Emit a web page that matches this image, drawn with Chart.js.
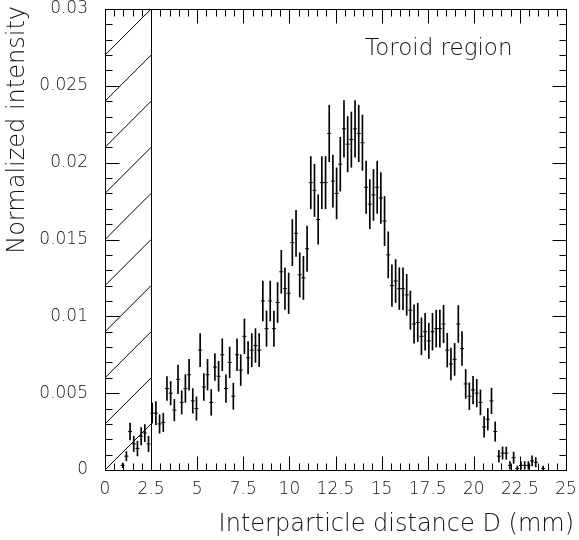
<!DOCTYPE html>
<html>
<head>
<meta charset="utf-8">
<script src="https://cdn.jsdelivr.net/npm/chart.js@4"></script>
<style>
  body { margin: 0; background: #fff; }
  canvas { display: block; }
</style>
</head>
<body>
<canvas id="chart" width="579" height="540"></canvas>
<script>
// bin centres (mm)
const distance = [
    0.96, 1.16, 1.36, 1.56, 1.76, 1.96, 2.16, 2.36, 2.56, 2.76,
    2.96, 3.16, 3.36, 3.56, 3.76, 3.96, 4.16, 4.36, 4.56, 4.76,
    4.96, 5.16, 5.36, 5.56, 5.76, 5.96, 6.16, 6.36, 6.56, 6.76,
    6.96, 7.16, 7.36, 7.56, 7.76, 7.96, 8.16, 8.36, 8.56, 8.76,
    8.96, 9.16, 9.36, 9.56, 9.76, 9.96, 10.16, 10.36, 10.56, 10.76,
    10.96, 11.16, 11.36, 11.56, 11.76, 11.96, 12.16, 12.36, 12.56, 12.76,
    12.96, 13.16, 13.36, 13.56, 13.76, 13.96, 14.16, 14.36, 14.56, 14.76,
    14.96, 15.16, 15.36, 15.56, 15.76, 15.96, 16.16, 16.36, 16.56, 16.76,
    16.96, 17.16, 17.36, 17.56, 17.76, 17.96, 18.16, 18.36, 18.56, 18.76,
    18.96, 19.16, 19.36, 19.56, 19.76, 19.96, 20.16, 20.36, 20.56, 20.76,
    20.96, 21.16, 21.36, 21.56, 21.76, 21.96, 22.16, 22.36, 22.56, 22.76,
    22.96, 23.16, 23.36, 23.56, 23.76
];

const intensity = [
    0.0003, 0.0009, 0.0025, 0.0017, 0.0014, 0.0022, 0.0024, 0.0017, 0.0037, 0.0037,
    0.0030, 0.0031, 0.0053, 0.0050, 0.0039, 0.0059, 0.0044, 0.0053, 0.0062, 0.0045,
    0.0040, 0.0078, 0.0054, 0.0062, 0.0044, 0.0067, 0.0061, 0.0075, 0.0053, 0.0070,
    0.0048, 0.0075, 0.0065, 0.0087, 0.0073, 0.0078, 0.0081, 0.0078, 0.0110, 0.0092,
    0.0110, 0.0092, 0.0109, 0.0129, 0.0118, 0.0115, 0.0148, 0.0154, 0.0127, 0.0125,
    0.0144, 0.0187, 0.0182, 0.0163, 0.0187, 0.0187, 0.0219, 0.0188, 0.0180, 0.0199,
    0.0222, 0.0212, 0.0215, 0.0222, 0.0219, 0.0213, 0.0184, 0.0173, 0.0179, 0.0184,
    0.0177, 0.0162, 0.0140, 0.0120, 0.0123, 0.0118, 0.0118, 0.0114, 0.0104, 0.0095,
    0.0096, 0.0087, 0.0090, 0.0084, 0.0090, 0.0092, 0.0092, 0.0095, 0.0078, 0.0069,
    0.0072, 0.0095, 0.0079, 0.0056, 0.0048, 0.0052, 0.0050, 0.0044, 0.0028, 0.0033,
    0.0045, 0.0025, 0.0009, 0.0011, 0.0011, 0.0003, 0.0008, 0.0001, 0.0003, 0.0003,
    0.0003, 0.0006, 0.0005, null, 0.0001
];

const errors = [
    0.00015, 0.0003, 0.00055, 0.0005, 0.00048, 0.00056, 0.00056, 0.0005, 0.00065, 0.00075,
    0.0006, 0.0006, 0.00078, 0.00076, 0.0007, 0.00093, 0.00076, 0.0009, 0.001, 0.0008,
    0.00076, 0.00108, 0.00087, 0.001, 0.00084, 0.00087, 0.00097, 0.00104, 0.0009, 0.001,
    0.00085, 0.00104, 0.001, 0.00113, 0.00105, 0.00108, 0.0011, 0.00108, 0.0013, 0.00115,
    0.0013, 0.00115, 0.0013, 0.0014, 0.00135, 0.00132, 0.0015, 0.0015, 0.00144, 0.0014,
    0.00148, 0.0017, 0.0017, 0.0016, 0.0017, 0.0017, 0.00184, 0.0017, 0.00166, 0.00175,
    0.00184, 0.0018, 0.0018, 0.00184, 0.00184, 0.0018, 0.0017, 0.0016, 0.00166, 0.0017,
    0.00166, 0.0016, 0.0015, 0.00135, 0.0014, 0.00136, 0.00136, 0.00133, 0.00125, 0.00125,
    0.00125, 0.0012, 0.0012, 0.00115, 0.0012, 0.0012, 0.0012, 0.00122, 0.0011, 0.00103,
    0.00104, 0.0012, 0.0011, 0.00094, 0.00087, 0.0009, 0.0009, 0.00081, 0.00067, 0.0007,
    0.00083, 0.00063, 0.00038, 0.0004, 0.0004, 0.00025, 0.00037, 0.00015, 0.00025, 0.00025,
    0.00025, 0.00033, 0.0003, null, 0.00015
];

const xTicks = [0, 2.5, 5, 7.5, 10, 12.5, 15, 17.5, 20, 22.5, 25];
const yTicks = [0, 0.005, 0.01, 0.015, 0.02, 0.025, 0.03];
const excludedUpTo = 2.5;   // hatched region

const xTitle = 'Interparticle distance D (mm)';
const yTitle = 'Normalized intensity';
const regionLabel = 'Toroid region';

const FONT = '"DejaVu Sans", sans-serif';
const INK = '#111';

const points = [];
const bars = [];
for (let i = 0; i < distance.length; i++) {
    if (intensity[i] === null) continue;
    points.push({ x: distance[i], y: intensity[i] });
    bars.push({ x: distance[i], y: [intensity[i] - errors[i], intensity[i] + errors[i]] });
}

// frame, inner ticks, hatching, titles (PAW style)
const framePlugin = {
    id: 'frame',
    afterDraw(chart) {
        const { ctx, chartArea: a, scales: { x, y } } = chart;
        ctx.save();
        ctx.strokeStyle = '#000';
        ctx.lineWidth = 1;

        // hatch
        const xe = Math.round(x.getPixelForValue(excludedUpTo)) + 0.5;
        ctx.save();
        ctx.beginPath();
        ctx.rect(a.left, a.top, xe - a.left, a.bottom - a.top);
        ctx.clip();
        ctx.beginPath();
        for (let v = 0; v < 0.03; v += 0.003) {
            ctx.moveTo(x.getPixelForValue(0), y.getPixelForValue(v));
            ctx.lineTo(x.getPixelForValue(excludedUpTo), y.getPixelForValue(v + 0.003));
        }
        ctx.stroke();
        ctx.restore();

        ctx.beginPath();
        ctx.moveTo(xe, a.top);
        ctx.lineTo(xe, a.bottom);
        ctx.stroke();

        // frame
        const L = Math.round(a.left) + 0.5, R = Math.round(a.right) + 0.5;
        const T = Math.round(a.top) + 0.5, B = Math.round(a.bottom) + 0.5;
        ctx.strokeRect(L, T, R - L, B - T);

        // ticks
        ctx.beginPath();
        for (let i = 0; i <= 50; i++) {
            const px = Math.round(x.getPixelForValue(i * 0.5)) + 0.5;
            const len = i % 5 === 0 ? 14 : 7;
            ctx.moveTo(px, B); ctx.lineTo(px, B - len);
            ctx.moveTo(px, T); ctx.lineTo(px, T + len);
        }
        for (let i = 0; i <= 30; i++) {
            const py = Math.round(y.getPixelForValue(i * 0.001)) + 0.5;
            const len = i % 5 === 0 ? 14 : 7;
            ctx.moveTo(L, py); ctx.lineTo(L + len, py);
            ctx.moveTo(R, py); ctx.lineTo(R - len, py);
        }
        ctx.stroke();

        // texts
        ctx.fillStyle = INK;
        ctx.font = '200 24px ' + FONT;
        ctx.textAlign = 'right';
        ctx.textBaseline = 'alphabetic';
        ctx.fillText(xTitle, 574, 531);

        ctx.save();
        ctx.translate(24, 6);
        ctx.rotate(-Math.PI / 2);
        ctx.fillText(yTitle, 0, 0);
        ctx.restore();

        ctx.font = '200 23px ' + FONT;
        ctx.textAlign = 'left';
        ctx.fillText(regionLabel, 365, 55);
        ctx.restore();
    }
};

const fmt = v => String(Math.round(v * 1000) / 1000);

new Chart(document.getElementById('chart'), {
    type: 'bar',
    data: {
        datasets: [{
            type: 'bar',
            data: bars,
            backgroundColor: '#000',
            barThickness: 1,
            grouped: false,
            borderWidth: 0
        }, {
            type: 'scatter',
            data: points,
            pointStyle: 'line',
            radius: 2,
            borderColor: '#000',
            borderWidth: 1
        }]
    },
    options: {
        responsive: false,
        animation: false,
        events: [],
        layout: { padding: { top: 9, right: 13, left: 0, bottom: 0 } },
        plugins: { legend: { display: false }, tooltip: { enabled: false } },
        scales: {
            x: {
                type: 'linear',
                offset: false,
                min: 0, max: 25,
                afterBuildTicks: s => { s.ticks = xTicks.map(v => ({ value: v })); },
                afterFit: s => { s.height = 70; s.paddingLeft = 0; s.paddingRight = 0; },
                grid: { display: false, drawTicks: false, offset: false },
                border: { display: false },
                ticks: {
                    callback: fmt,
                    padding: 9,
                    maxRotation: 0,
                    autoSkip: false,
                    color: INK,
                    font: { family: FONT, size: 17, weight: 200 }
                }
            },
            y: {
                type: 'linear',
                min: 0, max: 0.03,
                afterBuildTicks: s => { s.ticks = yTicks.map(v => ({ value: v })); },
                afterFit: s => { s.width = 105; s.paddingTop = 0; s.paddingBottom = 0; },
                grid: { display: false, drawTicks: false },
                border: { display: false },
                ticks: {
                    callback: fmt,
                    padding: 17,
                    autoSkip: false,
                    color: INK,
                    font: { family: FONT, size: 17, weight: 200 }
                }
            }
        }
    },
    plugins: [framePlugin]
});
</script>
</body>
</html>
